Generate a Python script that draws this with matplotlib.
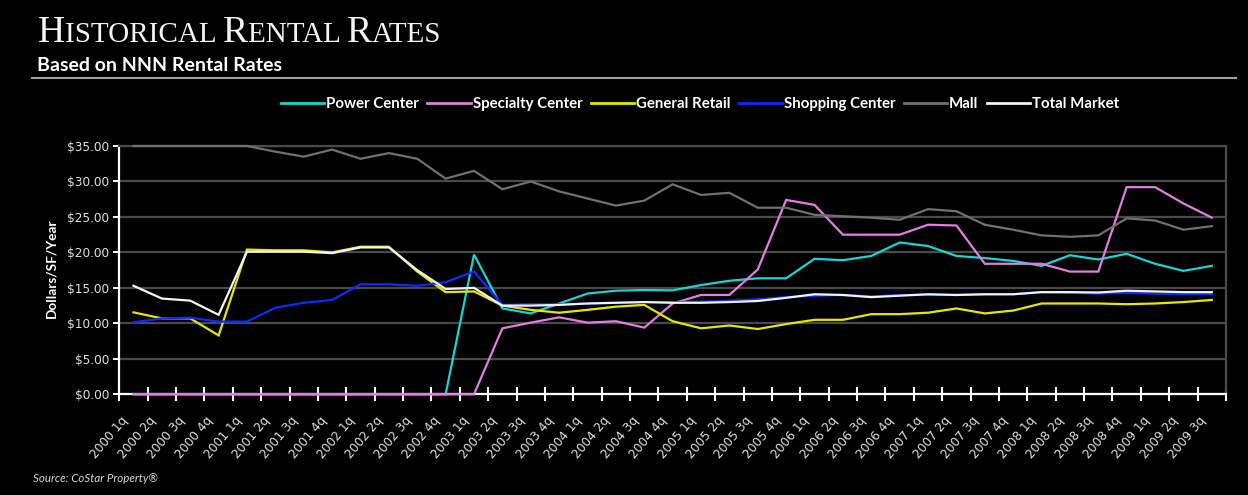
import matplotlib
matplotlib.use("Agg")
import matplotlib.pyplot as plt
from matplotlib.ticker import FixedLocator, FuncFormatter
from matplotlib.transforms import ScaledTranslation
from matplotlib.lines import Line2D

# ---------------- data ----------------
quarters = [f"{y} {q}q" for y in range(2000, 2010) for q in range(1, 5)][:39]

power_center = [0, 0, 0, 0, 0, 0, 0, 0, 0, 0, 0, 0,
                19.7, 12.1, 11.4, 12.8, 14.2, 14.6, 14.7, 14.65, 15.4, 16.0,
                16.35, 16.35, 19.1, 18.9, 19.5, 21.4, 20.9, 19.5, 19.2, 18.8,
                18.1, 19.6, 19.0, 19.8, 18.4, 17.4, 18.1]
specialty_center = [0, 0, 0, 0, 0, 0, 0, 0, 0, 0, 0, 0, 0,
                    9.3, 10.1, 10.85, 10.1, 10.3, 9.4, 12.8, 14.0, 14.0, 17.6,
                    27.4, 26.7, 22.5, 22.5, 22.5, 23.9, 23.8, 18.4, 18.4, 18.4,
                    17.3, 17.3, 29.2, 29.2, 26.9, 24.9]
general_retail = [11.55, 10.7, 10.7, 8.3, 20.4, 20.3, 20.3, 20.0, 20.8, 20.8,
                  17.3, 14.4, 14.5, 12.5, 11.9, 11.5, 11.9, 12.35, 12.6, 10.3,
                  9.3, 9.7, 9.2, 9.9, 10.5, 10.5, 11.3, 11.3, 11.5, 12.1, 11.4,
                  11.8, 12.8, 12.8, 12.8, 12.7, 12.8, 13.0, 13.3]
shopping_center = [10.15, 10.7, 10.8, 10.25, 10.25, 12.2, 12.9, 13.3, 15.5,
                   15.5, 15.3, 15.8, 17.3, 12.6, 12.7, 12.7, 12.8, 12.9, 13.0,
                   13.0, 13.05, 13.2, 13.4, 13.7, 13.9, 14.0, 13.8, 14.0, 14.0,
                   14.0, 14.1, 14.1, 14.4, 14.3, 14.2, 14.3, 14.2, 14.1, 14.1]
mall = [35, 35, 35, 35, 35, 34.2, 33.5, 34.5, 33.2, 34.0, 33.2, 30.4, 31.5,
        28.9, 30.0, 28.6, 27.6, 26.6, 27.3, 29.6, 28.1, 28.4, 26.3, 26.3, 25.3,
        25.1, 24.9, 24.6, 26.1, 25.8, 23.9, 23.2, 22.4, 22.2, 22.4, 24.8, 24.5,
        23.2, 23.7]
total_market = [15.3, 13.5, 13.2, 11.2, 20.1, 20.1, 20.1, 19.9, 20.7, 20.7,
                17.5, 14.85, 15.0, 12.5, 12.5, 12.6, 12.8, 12.9, 13.0, 12.9,
                12.9, 13.0, 13.15, 13.6, 14.1, 14.0, 13.7, 13.9, 14.1, 14.0,
                14.1, 14.1, 14.4, 14.4, 14.35, 14.6, 14.5, 14.4, 14.4]

series_names = ["Power Center", "Specialty Center", "General Retail",
                "Shopping Center", "Mall", "Total Market"]
series_values = [power_center, specialty_center, general_retail,
                 shopping_center, mall, total_market]
series_colors = ["#19d4d4", "#e27ee2", "#e6e600", "#0a2cff", "#707070", "#f2f2f2"]
y_ticks = [0, 5, 10, 15, 20, 25, 30, 35]

# ---------------- figure ----------------
W, H = 1248, 495
fig = plt.figure(figsize=(W / 100, H / 100), dpi=100, facecolor="black")
ax = fig.add_axes([119.3 / W, 1 - 394.3 / H, (1226 - 119.3) / W, (394.3 - 146) / H])
ax.set_facecolor("black")

x = list(range(len(quarters)))
for name, vals, col in zip(series_names, series_values, series_colors):
    ax.plot(x, vals, color=col, lw=1.6, label=name, clip_on=False, zorder=3,
            solid_joinstyle="miter")

ax.set_xlim(-0.5, len(quarters) - 0.5)
ax.set_ylim(0, 35)

grid_col = "#4a4a4a"
ax.yaxis.set_major_locator(FixedLocator(y_ticks))
ax.yaxis.set_major_formatter(FuncFormatter(lambda v, p: f"${v:,.2f}"))
ax.grid(axis="y", color=grid_col, lw=1.6, zorder=1)
ax.set_axisbelow(True)

for side in ["top", "right"]:
    ax.spines[side].set_color(grid_col)
    ax.spines[side].set_linewidth(1.6)
ax.spines["left"].set_color("white")
ax.spines["left"].set_linewidth(1.6)
ax.spines["bottom"].set_color("white")
ax.spines["bottom"].set_linewidth(1.6)
ax.spines["bottom"].set_zorder(2.5)

ax.tick_params(axis="y", colors="white", length=4, width=1.4, direction="out",
               labelcolor="#e0e0e0", labelsize=8.7, pad=3)
ax.set_xticks(x)
ax.set_xticklabels(quarters)
ax.set_xticks([i - 0.5 for i in range(len(quarters) + 1)], minor=True)
ax.tick_params(axis="x", which="major", length=0, labelcolor="#e0e0e0",
               labelsize=8.8, pad=0)
ax.tick_params(axis="x", which="minor", length=10, width=1.5, color="white",
               direction="inout")
for lbl in ax.get_xticklabels():
    lbl.set_rotation(50)
    lbl.set_ha("right")
    lbl.set_va("center")
    lbl.set_rotation_mode("anchor")
    lbl.set_transform(lbl.get_transform() +
                      ScaledTranslation(-8 / 100, -24 / 100, fig.dpi_scale_trans))

fig.text(51 / W, 1 - 268 / H, "Dollars/SF/Year", rotation=90, color="white",
         fontsize=9.8, fontweight="bold", family="Lato", ha="center", va="center")

# ---------------- title (small caps) ----------------
renderer = fig.canvas.get_renderer()
pieces = [("H", 27), ("ISTORICAL ", 21), ("R", 27), ("ENTAL ", 21),
          ("R", 27), ("ATES", 21)]
xp = 38
for txt, sz in pieces:
    t = fig.text(xp / W, 1 - 42 / H, txt, fontsize=sz, family="Liberation Serif",
                 color="#f4f4f4", va="baseline", ha="left")
    xp += t.get_window_extent(renderer).width

fig.text(37 / W, 1 - 71 / H, "Based on NNN Rental Rates", fontsize=14,
         fontweight="bold", family="Lato", color="white", va="baseline", ha="left")
fig.add_artist(Line2D([32 / W, 1236 / W], [1 - 78.3 / H, 1 - 78.3 / H],
                      color="#a0a0a0", lw=1.5, transform=fig.transFigure))

fig.text(33 / W, 1 - 478 / H, "Source: CoStar Property\u00ae", fontsize=8.3,
         style="italic", family="Lato", color="#d8d8d8", va="center", ha="left")

# ---------------- legend ----------------
leg = fig.legend(*ax.get_legend_handles_labels(), ncol=6, loc="center",
                 bbox_to_anchor=(700 / W, 1 - 104 / H), frameon=False,
                 prop={"family": "Lato", "weight": "bold", "size": 10.8},
                 labelcolor="white", handlelength=2.9, handletextpad=0.12,
                 columnspacing=0.55)
for h in leg.get_lines():
    h.set_linewidth(2)

fig.savefig("out.png", dpi=100, facecolor="black")
